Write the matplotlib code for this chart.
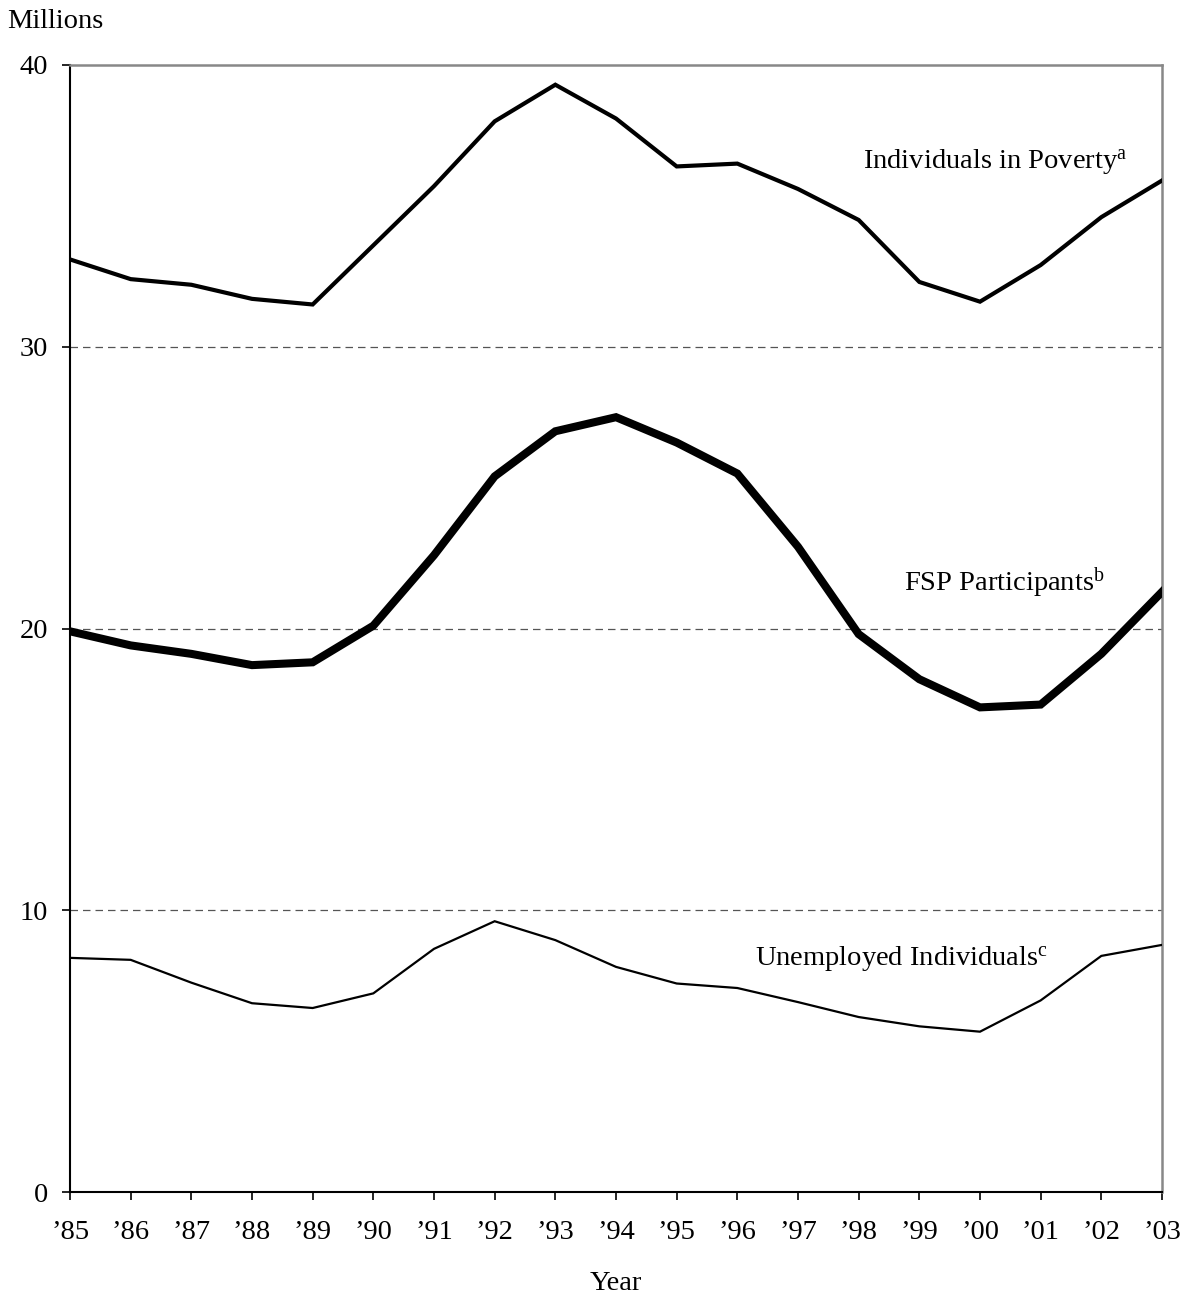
import matplotlib
matplotlib.use("Agg")
import matplotlib.pyplot as plt

plt.rcParams['font.family'] = ['Liberation Serif', 'DejaVu Serif']
plt.rcParams['mathtext.fontset'] = 'custom'
plt.rcParams['mathtext.rm'] = 'Liberation Serif'
plt.rcParams['mathtext.it'] = 'Liberation Serif:italic'

years = ["\u201985", "\u201986", "\u201987", "\u201988", "\u201989", "\u201990",
         "\u201991", "\u201992", "\u201993", "\u201994", "\u201995", "\u201996",
         "\u201997", "\u201998", "\u201999", "\u201900", "\u201901", "\u201902",
         "\u201903"]
poverty = [33.1, 32.4, 32.2, 31.7, 31.5, 33.6, 35.7, 38.0, 39.3, 38.1,
           36.4, 36.5, 35.6, 34.5, 32.3, 31.6, 32.9, 34.6, 35.9]
fsp = [19.9, 19.4, 19.1, 18.7, 18.8, 20.1, 22.6, 25.4, 27.0, 27.5,
       26.6, 25.5, 22.9, 19.8, 18.2, 17.2, 17.3, 19.1, 21.3]
unemployed = [8.31, 8.24, 7.43, 6.70, 6.53, 7.05, 8.63, 9.61, 8.94, 7.99,
              7.40, 7.24, 6.74, 6.21, 5.88, 5.69, 6.80, 8.38, 8.77]
yticks = [0, 10, 20, 30, 40]

FS = 20.5

fig = plt.figure(figsize=(11.85, 13.0), dpi=100)
ax = fig.add_axes([70/1185, 1 - 1192/1300, (1162-70)/1185, (1192-65)/1300])

x = list(range(len(years)))
for g in [10, 20, 30]:
    ax.axhline(g, color='#555555', lw=0.9, linestyle=(0, (6, 4)), zorder=1)

ax.plot(x, poverty, color='black', lw=3.0, solid_joinstyle='miter', zorder=3)
ax.plot(x, fsp, color='black', lw=5.8, solid_joinstyle='miter', zorder=3)
ax.plot(x, unemployed, color='black', lw=1.6, solid_joinstyle='miter', zorder=3)

ax.set_xlim(0, len(years) - 1)
ax.set_ylim(0, 40)
ax.set_xticks(x)
ax.set_xticklabels(years, fontsize=FS)
ax.set_yticks(yticks)
ax.set_yticklabels([str(v) for v in yticks], fontsize=FS)
ax.tick_params(axis='x', direction='out', length=6, width=1.2, pad=14, color='black')
ax.tick_params(axis='y', direction='out', length=6, width=1.2, pad=10, color='black')

for s in ['left', 'bottom']:
    ax.spines[s].set_color('black')
    ax.spines[s].set_linewidth(1.5)
for s in ['top', 'right']:
    ax.spines[s].set_color('#888888')
    ax.spines[s].set_linewidth(1.8)

ax.text(17.42, 36.55, r'Individuals in Poverty$^{\rm a}$', fontsize=FS, ha='right', va='center')
ax.text(17.06, 21.65, r'FSP Participants$^{\rm b}$', fontsize=FS, ha='right', va='center')
ax.text(16.12, 8.24, r'Unemployed Individuals$^{\rm c}$', fontsize=FS, ha='right', va='center')

fig.text(7/1185, 1 - 22/1300, 'Millions', fontsize=FS, ha='left', va='center')
fig.text(616/1185, 1 - 1284/1300, 'Year', fontsize=FS, ha='center', va='center')

fig.savefig('out.png', dpi=100)
